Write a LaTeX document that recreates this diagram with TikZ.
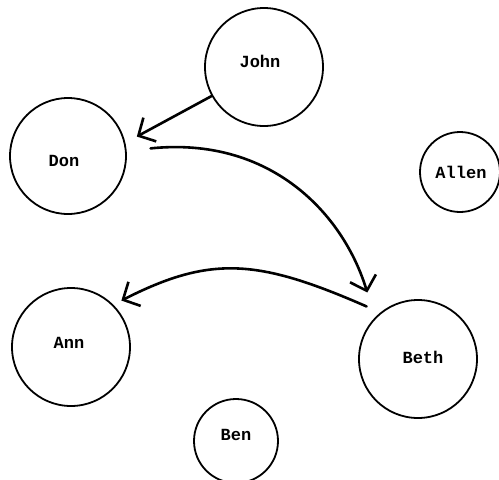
\documentclass[tikz,border=0pt]{standalone}
\usepackage{fontspec}
\setmonofont{Liberation Mono}
\usetikzlibrary{arrows.meta}
\begin{document}
\begin{tikzpicture}[x=1pt,y=1pt,
  person/.style={circle,draw,line width=1.8pt,inner sep=0pt},
  nametext/.style={font=\ttfamily\bfseries\fontsize{17}{17}\selectfont,inner sep=0pt},
  link/.style={line width=2.6pt,line cap=round,
    -{Straight Barb[length=13pt,width=27pt]}}
]
\useasboundingbox (0,0) rectangle (499,-480);
\node[person,minimum size=118pt,label={[nametext,xshift=-4pt,yshift=6pt]center:John}] (john)  at (264,-67)  {};
\node[person,minimum size=116pt,label={[nametext,xshift=-4pt,yshift=-5pt]center:Don}] (don)   at (68,-156)  {};
\node[person,minimum size=80pt,label={[nametext,xshift=1pt]center:Allen}]  (allen) at (460,-172) {};
\node[person,minimum size=118pt,label={[nametext,xshift=-2pt,yshift=4pt]center:Ann}] (ann)   at (71,-347)  {};
\node[person,minimum size=118pt,label={[nametext,xshift=5pt,yshift=2pt]center:Beth}] (beth)  at (418,-359) {};
\node[person,minimum size=84pt,label={[nametext,yshift=6pt]center:Ben}]  (ben)   at (236,-441) {};

\draw[link,shorten >=13pt] (john.209) -- (don.13);
\draw[link,shorten <=24pt,shorten >=26pt] (don.5) .. controls (270,-136) and (343,-213) .. (beth.136);
\draw[link,shorten <=15pt,shorten >=9pt] (beth.129) .. controls (258,-259) and (211,-255) .. (ann.45);
\end{tikzpicture}
\end{document}
